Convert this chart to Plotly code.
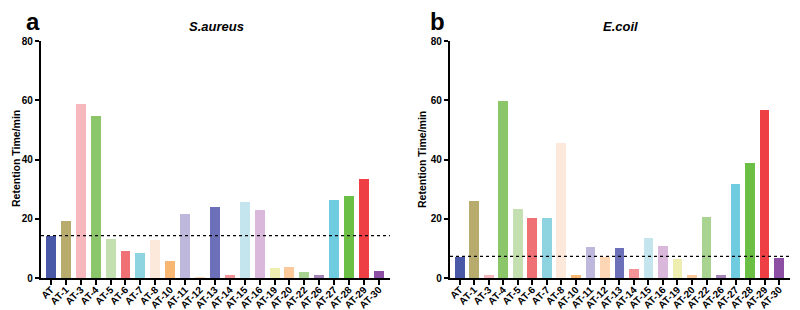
import plotly.graph_objects as go

categories = ["AT", "AT-1", "AT-3", "AT-4", "AT-5", "AT-6", "AT-7", "AT-8", "AT-10",
              "AT-11", "AT-12", "AT-13", "AT-14", "AT-15", "AT-16", "AT-19", "AT-20",
              "AT-22", "AT-26", "AT-27", "AT-28", "AT-29", "AT-30"]

saureus = [14.3, 19.1, 58.7, 54.7, 13.1, 9.0, 8.3, 12.7, 5.8, 21.6, 0.3, 23.8, 1.1,
           25.6, 22.8, 3.4, 3.6, 2.0, 1.1, 26.2, 27.7, 33.3, 2.3]
ecoli = [7.0, 26.1, 1.0, 59.7, 23.2, 20.4, 20.4, 45.5, 1.0, 10.4, 7.0, 10.1, 2.9,
         13.5, 10.9, 6.3, 0.9, 20.5, 1.0, 31.8, 38.8, 56.7, 6.8]

saureus_ref = 14.3
ecoli_ref = 7.3

colors = ["#4a58a8", "#b8ab6e", "#f7b8bd", "#8cc66a", "#c5e0b0", "#ef7075", "#8ed3e0",
          "#fde9dc", "#f9b774", "#bdb8dc", "#fdd6b5", "#6b70b8", "#f49499", "#c4e5ee",
          "#d9b8dc", "#eeeeb0", "#fbc99a", "#a8d391", "#a585b8", "#6ecbe0", "#6cbf45",
          "#ee3f45", "#8d4fa3"]

yticks = [0, 20, 40, 60, 80]

fig = go.Figure()
fig.add_trace(go.Bar(x=list(range(len(categories))), y=saureus, marker_color=colors,
                     marker_line_width=0, width=0.67, xaxis="x", yaxis="y", showlegend=False))
fig.add_trace(go.Bar(x=list(range(len(categories))), y=ecoli, marker_color=colors,
                     marker_line_width=0, width=0.67, xaxis="x2", yaxis="y2", showlegend=False))

# dotted reference lines
fig.add_trace(go.Scatter(x=[-0.67, 23.2], y=[saureus_ref, saureus_ref], mode="lines",
                         line=dict(color="black", width=1.2, dash="dot"),
                         xaxis="x", yaxis="y", showlegend=False, cliponaxis=False))
fig.add_trace(go.Scatter(x=[-0.67, 23.8], y=[ecoli_ref, ecoli_ref], mode="lines",
                         line=dict(color="black", width=1.2, dash="dot"),
                         xaxis="x2", yaxis="y2", showlegend=False, cliponaxis=False))

tickfont = dict(family="Liberation Sans, Arial", size=10, color="black")
xax = dict(tickmode="array", tickvals=list(range(len(categories))), ticktext=[f"<b>{c}</b>" for c in categories],
           tickangle=-45, range=[-0.67, 22.75], showline=True, linecolor="black", linewidth=2.2,
           ticks="outside", ticklen=5, tickwidth=2, tickcolor="black", showgrid=False,
           zeroline=False, tickfont=tickfont, automargin=False, fixedrange=True,
           ticklabelstandoff=-5)
yax = dict(range=[0, 80], tickmode="array", tickvals=yticks, ticktext=[f"<b>{v}</b>" for v in yticks],
           showline=True, linecolor="black", linewidth=2.2, ticks="outside", ticklen=4,
           tickwidth=2, tickcolor="black", showgrid=False, zeroline=False, tickfont=tickfont,
           automargin=False, fixedrange=True)

y0 = (310 - 270) / 310
y1 = (310 - 33) / 310
fig.update_layout(
    width=800, height=310,
    margin=dict(l=0, r=0, t=0, b=0),
    paper_bgcolor="white", plot_bgcolor="white",
    bargap=0,
    xaxis=dict(xax, domain=[33 / 800, 382 / 800], anchor="y"),
    yaxis=dict(yax, domain=[y0, y1], anchor="x"),
    xaxis2=dict(xax, domain=[442 / 800, 782 / 800], anchor="y2"),
    yaxis2=dict(yax, domain=[y0, y1], anchor="x2"),
    font=dict(family="Liberation Sans, Arial", color="black"),
)

def px_x(v):
    return v / 800

def px_y(v):
    return (310 - v) / 310

annotations = [
    dict(text="<b>a</b>", x=px_x(25), y=px_y(13), size=24),
    dict(text="<b>b</b>", x=px_x(429), y=px_y(13), size=24),
    dict(text="<b><i>S.aureus</i></b>", x=px_x(208), y=px_y(19), size=13),
    dict(text="<b><i>E.coil</i></b>", x=px_x(612), y=px_y(19), size=13),
]
for a in annotations:
    fig.add_annotation(text=a["text"], x=a["x"], y=a["y"], xref="paper", yref="paper",
                       showarrow=False, xanchor="center", yanchor="middle",
                       font=dict(family="Liberation Sans, Arial", size=a["size"], color="black"))
for xp in (8, 414):
    fig.add_annotation(text="<b>Retention Time/min</b>", x=px_x(xp), y=px_y(151), xref="paper",
                       yref="paper", showarrow=False, textangle=-90, xanchor="center",
                       yanchor="middle", font=dict(family="Liberation Sans, Arial", size=10.5, color="black"))

fig.write_html("out.html")
